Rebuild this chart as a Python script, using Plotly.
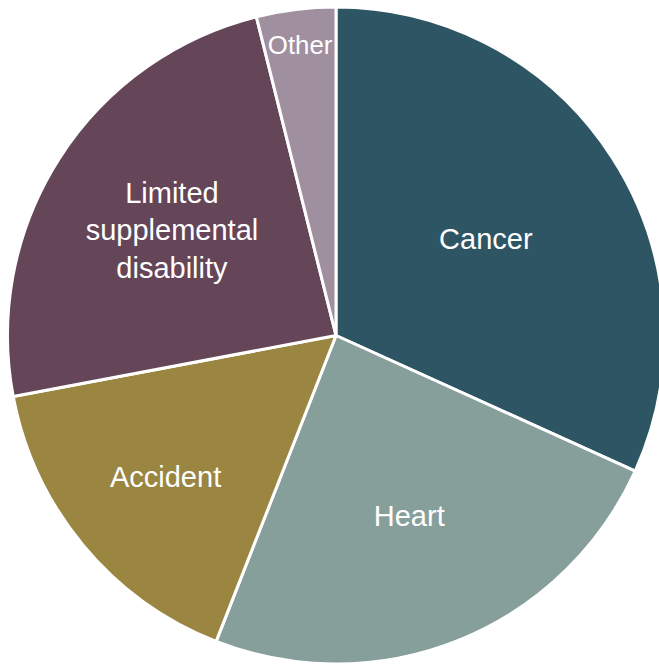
import plotly.graph_objects as go

categories = ["Cancer", "Heart", "Accident", "Limited<br>supplemental<br>disability", "Other"]
values = [31.8, 24.2, 16.1, 24.1, 3.9]
colors = ["#2E5564", "#879F9A", "#9A8541", "#654558", "#A08F9F"]
font_sizes = [29, 29, 29, 29, 26]

fig = go.Figure(go.Pie(
    labels=categories,
    values=values,
    sort=False,
    direction="clockwise",
    rotation=0,
    marker=dict(colors=colors, line=dict(color="white", width=3)),
    textinfo="label",
    textposition="inside",
    insidetextorientation="horizontal",
    textfont=dict(family="Liberation Sans, Arial, sans-serif", size=font_sizes, color="white"),
    hoverinfo="label+value",
    showlegend=False,
))

fig.update_layout(
    width=674, height=665,
    margin=dict(l=7, r=9, t=7, b=1),
    paper_bgcolor="white",
    plot_bgcolor="white",
)

fig.write_html("out.html", post_script="document.body.style.margin='0';document.body.style.overflow='hidden';document.documentElement.style.overflow='hidden';")
